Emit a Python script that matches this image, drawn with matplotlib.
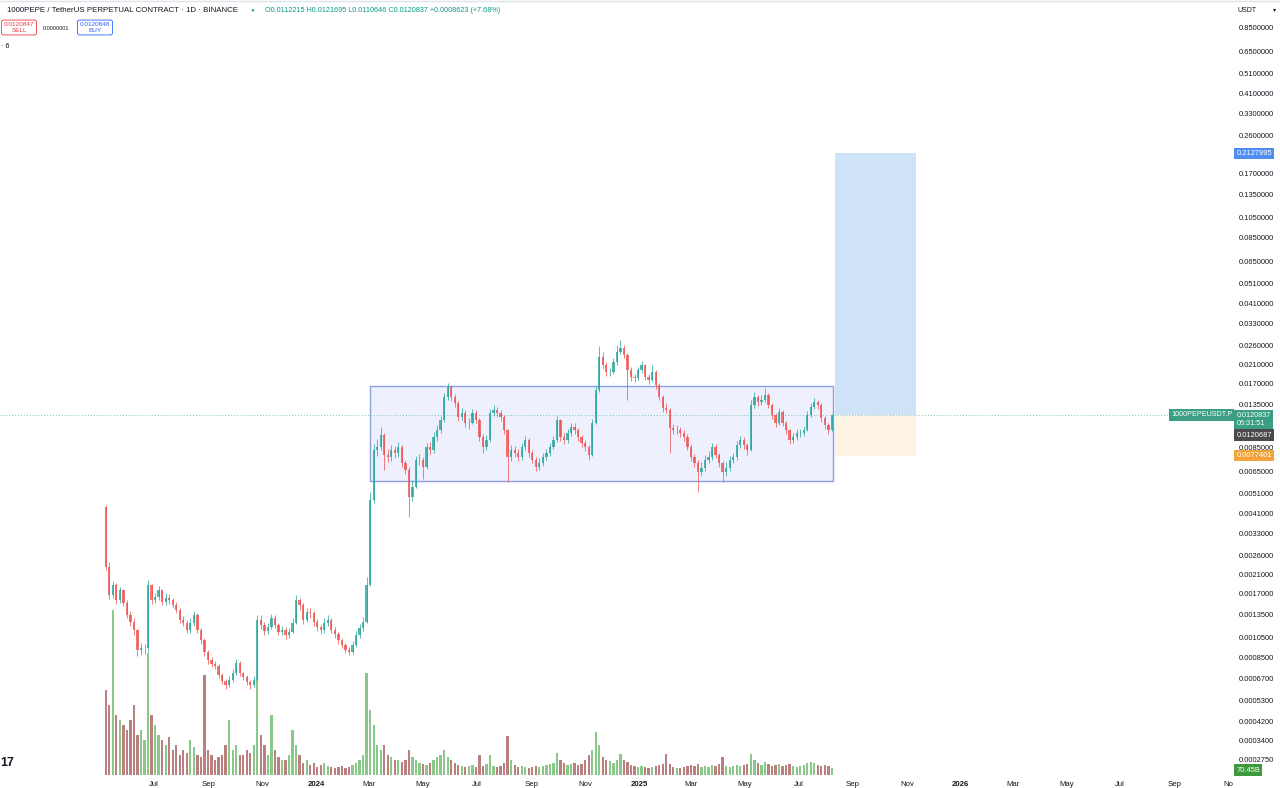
import numpy as np
import pandas as pd
import matplotlib
matplotlib.use('Agg')
import matplotlib.pyplot as plt
import matplotlib.dates as mdates
from matplotlib.patches import Rectangle
from matplotlib.lines import Line2D
from matplotlib.ticker import NullLocator

plt.rcParams['font.family'] = ['Liberation Sans', 'DejaVu Sans']

# 4-day candles starting 2023-05-05 (centre of each window used as x)
start = '2023-05-07'
first_open = 0.00440

closes = [
    0.00228, 0.00168, 0.00187, 0.00159, 0.00177, 0.00154, 0.00135, 0.00125, 0.00114, 0.000917,
    0.000937, 0.000937, 0.00187, 0.00159, 0.00164, 0.00177, 0.00156, 0.00163, 0.00159, 0.00150,
    0.00142, 0.00128, 0.00124, 0.00114, 0.00124, 0.00135, 0.00114, 0.00102, 0.000897, 0.000822,
    0.000787, 0.000770, 0.000697, 0.000653, 0.000625, 0.000660, 0.000712, 0.000795, 0.000712, 0.000682,
    0.000646, 0.000625, 0.000660, 0.00128, 0.00121, 0.00113, 0.00118, 0.00131, 0.00121, 0.00112,
    0.00114, 0.00108, 0.00112, 0.00124, 0.00159, 0.00150, 0.00128, 0.00139, 0.00137, 0.00125,
    0.00118, 0.00114, 0.00124, 0.00128, 0.00114, 0.00109, 0.00102, 0.000968, 0.000917, 0.000897,
    0.000968, 0.00108, 0.00117, 0.00125, 0.00187, 0.00475, 0.00823, 0.00850, 0.00969, 0.00779,
    0.00762, 0.00823, 0.00796, 0.00850, 0.00713, 0.00661, 0.00491, 0.00548, 0.00737, 0.00737,
    0.00683, 0.00850, 0.00823, 0.00948, 0.01024, 0.01143, 0.01470, 0.01641, 0.01470, 0.01377,
    0.01181, 0.01233, 0.01106, 0.01106, 0.01233, 0.01143, 0.00948, 0.00850, 0.00918, 0.01233,
    0.01275, 0.01233, 0.01181, 0.01024, 0.00762, 0.00823, 0.00796, 0.00762, 0.00850, 0.00918,
    0.00796, 0.00737, 0.00683, 0.00713, 0.00762, 0.00796, 0.00850, 0.00918, 0.01143, 0.00948,
    0.00918, 0.00991, 0.01059, 0.01024, 0.00948, 0.00888, 0.00850, 0.00779, 0.01106, 0.01588,
    0.02280, 0.02089, 0.01934, 0.01934, 0.02158, 0.02409, 0.02516, 0.02331, 0.01977, 0.01831,
    0.01811, 0.01977, 0.02089, 0.01831, 0.01772, 0.01934, 0.01677, 0.01470, 0.01303, 0.01275,
    0.01047, 0.01024, 0.01024, 0.00991, 0.00948, 0.00850, 0.00762, 0.00713, 0.00647, 0.00675,
    0.00737, 0.00762, 0.00850, 0.00779, 0.00713, 0.00647, 0.00675, 0.00737, 0.00762, 0.00869,
    0.00918, 0.00869, 0.00823, 0.01347, 0.01470, 0.01392, 0.01423, 0.01503, 0.01347, 0.01207,
    0.01106, 0.01247, 0.01106, 0.01024, 0.00918, 0.00948, 0.00991, 0.00991, 0.01024, 0.01207,
    0.01318, 0.01392, 0.01347, 0.01168, 0.01082, 0.01024, 0.01208]

highs = [
    0.00448, 0.00240, 0.00196, 0.00192, 0.00184, 0.00180, 0.00158, 0.00140, 0.00130, 0.00116,
    0.000990, 0.000985, 0.00198, 0.00190, 0.00172, 0.00185, 0.00180, 0.00172, 0.00170, 0.00163,
    0.00155, 0.00146, 0.00133, 0.00128, 0.00130, 0.00141, 0.00138, 0.00117, 0.00105, 0.000920,
    0.000850, 0.000815, 0.000790, 0.000715, 0.000670, 0.000690, 0.000745, 0.000830, 0.000810, 0.000725,
    0.000695, 0.000660, 0.000690, 0.00135, 0.00134, 0.00125, 0.00123, 0.00136, 0.00134, 0.00124,
    0.00119, 0.00118, 0.00117, 0.00130, 0.00168, 0.00163, 0.00153, 0.00145, 0.00145, 0.00141,
    0.00129, 0.00122, 0.00130, 0.00134, 0.00131, 0.00118, 0.00112, 0.00105, 0.000990, 0.000945,
    0.00101, 0.00113, 0.00122, 0.00132, 0.00205, 0.00520, 0.00880, 0.00930, 0.01060, 0.00990,
    0.00830, 0.00870, 0.00860, 0.00900, 0.00870, 0.00740, 0.00680, 0.00590, 0.00770, 0.00790,
    0.00760, 0.00890, 0.00900, 0.01000, 0.01080, 0.01200, 0.01540, 0.01720, 0.01680, 0.01520,
    0.01410, 0.01300, 0.01270, 0.01170, 0.01290, 0.01270, 0.01170, 0.00980, 0.00970, 0.01290,
    0.01340, 0.01320, 0.01270, 0.01210, 0.01040, 0.00870, 0.00860, 0.00830, 0.00890, 0.00960,
    0.00940, 0.00820, 0.00760, 0.00750, 0.00800, 0.00830, 0.00890, 0.00960, 0.01200, 0.01160,
    0.00990, 0.01040, 0.01100, 0.01100, 0.01050, 0.00970, 0.00920, 0.00870, 0.01150, 0.01660,
    0.02560, 0.02400, 0.02150, 0.02030, 0.02250, 0.02600, 0.02750, 0.02600, 0.02380, 0.02050,
    0.01900, 0.02050, 0.02180, 0.02120, 0.01900, 0.02080, 0.01970, 0.01710, 0.01500, 0.01380,
    0.01310, 0.01090, 0.01080, 0.01060, 0.01020, 0.00980, 0.00880, 0.00790, 0.00740, 0.00720,
    0.00780, 0.00810, 0.00890, 0.00880, 0.00800, 0.00730, 0.00720, 0.00770, 0.00800, 0.00910,
    0.00960, 0.00950, 0.00890, 0.01420, 0.01560, 0.01500, 0.01500, 0.01620, 0.01540, 0.01380,
    0.01230, 0.01300, 0.01270, 0.01130, 0.01040, 0.00990, 0.01030, 0.01040, 0.01070, 0.01260,
    0.01380, 0.01450, 0.01420, 0.01370, 0.01200, 0.01110, 0.01217]

lows = [
    0.00220, 0.00160, 0.00162, 0.00152, 0.00154, 0.00148, 0.00130, 0.00120, 0.00108, 0.000860,
    0.000870, 0.000880, 0.000900, 0.00152, 0.00153, 0.00158, 0.00150, 0.00151, 0.00152, 0.00145,
    0.00137, 0.00124, 0.00119, 0.00110, 0.00111, 0.00120, 0.00110, 0.000980, 0.000860, 0.000790,
    0.000760, 0.000745, 0.000675, 0.000630, 0.000600, 0.000610, 0.000645, 0.000700, 0.000690, 0.000660,
    0.000625, 0.000600, 0.000610, 0.000650, 0.00115, 0.00108, 0.00109, 0.00115, 0.00117, 0.00108,
    0.00108, 0.00104, 0.00105, 0.00110, 0.00122, 0.00143, 0.00122, 0.00125, 0.00131, 0.00120,
    0.00113, 0.00109, 0.00111, 0.00120, 0.00110, 0.00105, 0.000985, 0.000935, 0.000890, 0.000870,
    0.000880, 0.000950, 0.00105, 0.00113, 0.00123, 0.00185, 0.00460, 0.00770, 0.00820, 0.00660,
    0.00720, 0.00730, 0.00750, 0.00760, 0.00680, 0.00630, 0.00394, 0.00470, 0.00540, 0.00700,
    0.00600, 0.00670, 0.00790, 0.00800, 0.00910, 0.00990, 0.01120, 0.01420, 0.01410, 0.01320,
    0.01130, 0.01140, 0.01060, 0.01040, 0.01090, 0.01100, 0.00910, 0.00800, 0.00820, 0.00900,
    0.01200, 0.01180, 0.01130, 0.00980, 0.00580, 0.00730, 0.00760, 0.00730, 0.00740, 0.00820,
    0.00760, 0.00710, 0.00650, 0.00660, 0.00690, 0.00740, 0.00770, 0.00830, 0.00900, 0.00910,
    0.00880, 0.00890, 0.00960, 0.00980, 0.00910, 0.00850, 0.00810, 0.00740, 0.00770, 0.01090,
    0.01560, 0.02000, 0.01860, 0.01850, 0.01900, 0.02100, 0.02350, 0.02250, 0.01423, 0.01760,
    0.01740, 0.01770, 0.01920, 0.01770, 0.01700, 0.01730, 0.01610, 0.01420, 0.01250, 0.01230,
    0.00796, 0.00980, 0.00980, 0.00950, 0.00910, 0.00820, 0.00730, 0.00680, 0.00519, 0.00620,
    0.00650, 0.00710, 0.00740, 0.00750, 0.00680, 0.00580, 0.00620, 0.00650, 0.00710, 0.00740,
    0.00840, 0.00830, 0.00780, 0.00810, 0.01310, 0.01330, 0.01350, 0.01390, 0.01300, 0.01160,
    0.01060, 0.01080, 0.01070, 0.00980, 0.00880, 0.00890, 0.00920, 0.00950, 0.00960, 0.01010,
    0.01180, 0.01290, 0.01290, 0.01120, 0.01040, 0.00980, 0.01010]

# volume per 4-day bar, billions
volumes = [
    850, 700, 1650, 600, 550, 500, 450, 550, 700, 400,
    450, 350, 1220, 600, 500, 400, 350, 300, 380, 250,
    300, 200, 250, 220, 350, 280, 200, 180, 1000, 250,
    200, 150, 180, 200, 300, 550, 250, 300, 200, 200,
    250, 220, 300, 950, 400, 300, 200, 600, 250, 180,
    150, 150, 200, 450, 300, 200, 120, 150, 100, 120,
    80, 100, 120, 90, 80, 70, 80, 90, 70, 80,
    100, 120, 150, 200, 1020, 650, 500, 300, 250, 300,
    200, 180, 150, 150, 130, 150, 250, 180, 150, 120,
    110, 100, 120, 150, 180, 200, 250, 180, 150, 120,
    100, 90, 80, 90, 100, 80, 200, 90, 110, 200,
    90, 80, 90, 120, 390, 150, 100, 80, 90, 80,
    70, 80, 90, 80, 90, 100, 110, 120, 220, 150,
    120, 100, 110, 120, 100, 110, 150, 200, 250, 430,
    300, 180, 150, 140, 120, 150, 210, 150, 130, 100,
    90, 80, 90, 80, 70, 80, 90, 100, 110, 210,
    110, 80, 70, 70, 80, 90, 100, 90, 110, 80,
    90, 80, 100, 90, 110, 180, 90, 80, 90, 100,
    90, 100, 110, 210, 150, 120, 100, 130, 110, 90,
    100, 110, 90, 100, 110, 90, 80, 90, 100, 120,
    130, 120, 100, 90, 100, 90, 70]

# drawings
range_start, range_end = '2024-03-02', '2025-08-09'
range_low, range_high = 0.005854, 0.01659
pos_start, pos_end = '2025-08-12', '2025-11-11'
entry = 0.0120837
target = 0.2127995
stop = 0.0077401

price_ticks = [0.85, 0.65, 0.51, 0.41, 0.33, 0.26, 0.17, 0.135, 0.105, 0.085,
               0.065, 0.051, 0.041, 0.033, 0.026, 0.021, 0.017, 0.0135, 0.0085,
               0.0065, 0.0051, 0.0041, 0.0033, 0.0026, 0.0021, 0.0017, 0.00135,
               0.00105, 0.00085, 0.00067, 0.00053, 0.00042, 0.00034, 0.000275]

UP = '#26a69a'
DOWN = '#ef5350'

dates = pd.date_range(start, periods=len(closes), freq='4D')
x = mdates.date2num(dates)
c = np.array(closes)
o = np.concatenate([[first_open], c[:-1]])
h = np.array(highs)
l = np.array(lows)
up = c >= o

fig = plt.figure(figsize=(12.8, 7.88), dpi=100)
fig.patch.set_facecolor('white')
ax = fig.add_axes([0, 13 / 788, 1232 / 1280, 775 / 788])
vax = ax.twinx()
ax.set_zorder(vax.get_zorder() + 1)
ax.patch.set_visible(False)

ax.set_yscale('log')
ax.set_ylim(0.0002331, 1.1429)
ax.set_xlim(mdates.date2num(pd.Timestamp('2023-01-07')),
            mdates.date2num(pd.Timestamp('2026-11-05')))

# volume
vcol = np.where(up, '#6dbb6d', '#a8615f')
vax.bar(x, volumes, width=2.6, color=vcol, alpha=0.8, linewidth=0)
vax.set_ylim(0, 7750)
vax.axis('off')

# range box
rx0 = mdates.date2num(pd.Timestamp(range_start))
rx1 = mdates.date2num(pd.Timestamp(range_end))
ax.add_patch(Rectangle((rx0, range_low), rx1 - rx0, range_high - range_low,
                       facecolor='#eef1fd', edgecolor='#8d9fe3', lw=1.0, zorder=1))

# long position tool
px0 = mdates.date2num(pd.Timestamp(pos_start))
px1 = mdates.date2num(pd.Timestamp(pos_end))
ax.add_patch(Rectangle((px0, entry), px1 - px0, target - entry,
                       facecolor='#cfe3f8', edgecolor='none', zorder=1))
ax.add_patch(Rectangle((px0, stop), px1 - px0, entry - stop,
                       facecolor='#fdf3e3', edgecolor='none', zorder=1))

# candles
ccol = np.where(up, UP, DOWN)
ax.vlines(x, l, h, colors=ccol, lw=0.7, alpha=0.75, zorder=3)
body_lo = np.minimum(o, c)
body_hi = np.maximum(o, c)
ax.bar(x, body_hi - body_lo, bottom=body_lo, width=2.6, color=ccol,
       alpha=0.8, linewidth=0, zorder=4)

# last price line
ax.axhline(entry, color='#7cc6b9', lw=0.7, ls=(0, (1, 2)), zorder=2)

# axes styling
for s in ax.spines.values():
    s.set_visible(False)
ax.yaxis.tick_right()
ax.yaxis.set_minor_locator(NullLocator())
ax.set_yticks(price_ticks)
ax.set_yticklabels([f'{t:.7f}' for t in price_ticks])
ax.tick_params(axis='y', length=0, pad=5, labelsize=5.4, colors='#131722')

xt = pd.date_range('2023-07-01', '2026-11-01', freq='2MS')
xlabels = [str(d.year) if d.month == 1 else d.strftime('%b') for d in xt]
xlabels[-1] = 'No'
ax.set_xticks(mdates.date2num(xt))
ax.set_xticklabels(xlabels)
ax.tick_params(axis='x', length=0, pad=4, labelsize=5.6, colors='#131722')
for lab, d in zip(ax.get_xticklabels(), xt):
    if d.month == 1:
        lab.set_fontweight('bold')


def price_tag(y, text, fc, tc='white', dy=0, xa=1.0035, fs=5.4):
    ax.annotate(text, xy=(xa, y), xycoords=('axes fraction', 'data'),
                xytext=(0, dy), textcoords='offset points',
                ha='left', va='center', fontsize=fs, color=tc,
                bbox=dict(boxstyle='square,pad=0.3', fc=fc, ec='none'),
                annotation_clip=False, zorder=10)


price_tag(target, '0.2127995', '#4f8ef0')
price_tag(entry, '0.0120837\n06:31:51', '#3a9e83', dy=-3.5, fs=5.2)
price_tag(entry, '0.0120687', '#4a4a4a', dy=-14.5)
price_tag(stop, '0.0077401', '#f2a33a')
ax.annotate('1000PEPEUSDT.P', xy=(0.9505, entry), xycoords=('axes fraction', 'data'),
            ha='left', va='center', fontsize=5.2, color='white',
            bbox=dict(boxstyle='square,pad=0.3', fc='#3a9e83', ec='none'),
            annotation_clip=False, zorder=10)
vax.annotate('70.45B', xy=(1.0035, 50), xycoords=('axes fraction', 'data'),
             ha='left', va='center', fontsize=5.4, color='white',
             bbox=dict(boxstyle='square,pad=0.3', fc='#3c9a3c', ec='none'),
             annotation_clip=False, zorder=10)

# header
fig.add_artist(Line2D([0, 1], [0.999, 0.999], color='#e0e3eb', lw=1))
fig.text(7 / 1280, 1 - 10 / 788, '1000PEPE / TetherUS PERPETUAL CONTRACT · 1D · BINANCE',
         fontsize=5.7, color='#131722', va='center', ha='left')
fig.text(252 / 1280, 1 - 10 / 788, '●', fontsize=4.5, color='#22ab94', va='center', ha='center')
fig.text(265 / 1280, 1 - 10 / 788,
         'O0.0112215 H0.0121695 L0.0110646 C0.0120837 +0.0008623 (+7.68%)',
         fontsize=5.2, color='#089981', va='center', ha='left')

fig.text(19 / 1280, 1 - 27.5 / 788, '0.0120847\nSELL', fontsize=4.6, color='#f23645',
         ha='center', va='center', linespacing=1.1,
         bbox=dict(boxstyle='round,pad=0.35,rounding_size=0.3', fc='white', ec='#f23645', lw=0.6))
fig.text(56 / 1280, 1 - 28 / 788, '0.0000001', fontsize=4.0, color='#131722',
         ha='center', va='center')
fig.text(95 / 1280, 1 - 27.5 / 788, '0.0120848\nBUY', fontsize=4.6, color='#2962ff',
         ha='center', va='center', linespacing=1.1,
         bbox=dict(boxstyle='round,pad=0.35,rounding_size=0.3', fc='white', ec='#2962ff', lw=0.6))
fig.text(1 / 1280, 1 - 46 / 788, '· 6', fontsize=5.2, color='#131722', va='center', ha='left')

fig.text(0 / 1280, 1 - 763 / 788, '17', fontsize=9, fontweight='bold', color='#131722',
         va='center', ha='left')
fig.text(1237 / 1280, 1 - 10 / 788, 'USDT', fontsize=5.0, color='#131722', va='center', ha='left')
fig.text(1275 / 1280, 1 - 10 / 788, '▾', fontsize=4.5, color='#131722', va='center', ha='center')

fig.savefig('out.png', dpi=100, facecolor='white')
